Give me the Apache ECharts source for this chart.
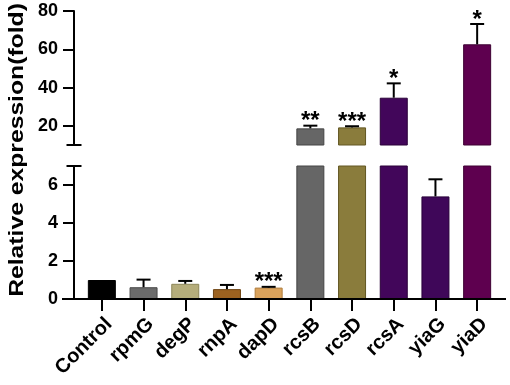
<!DOCTYPE html>
<html>
<head>
<meta charset="utf-8">
<script src="https://cdn.jsdelivr.net/npm/echarts@6/dist/echarts.min.js"></script>
<style>
    html, body { margin: 0; padding: 0; background: #fff; }
    #chart { width: 510px; height: 385px; }
</style>
</head>
<body>
<div id="chart"></div>
<script>
    // data
    var genes = ['Control', 'rpmG', 'degP', 'rnpA', 'dapD', 'rcsB', 'rcsD', 'rcsA', 'yiaG', 'yiaD'];
    var means = [1.0, 0.62, 0.8, 0.52, 0.6, 18.7, 19.2, 34.7, 5.4, 62.6];
    var errs = [0, 0.4, 0.15, 0.22, 0.04, 1.4, 0.6, 7.5, 0.9, 10.6];
    var stars = ['', '', '', '', '***', '**', '***', '*', '', '*'];
    var lowTicks = [0, 2, 4, 6];
    var highTicks = [20, 40, 60, 80];
    var lowRange = [0, 7];
    var highRange = [10, 80];

    var fills = ['#000000', '#6b6b6b', '#b5ad7b', '#9c6220', '#d9a25c', '#666666', '#8a7c3c', '#42065a', '#3f0759', '#5e004f'];
    var edges = ['#000000', '#4a4a4a', '#8d8658', '#6e4312', '#b07d3c', '#454545', '#625722', '#2a0039', '#280039', '#3e0033'];

    var font = '"Liberation Sans", Arial, sans-serif';
    var axisX = 74, baseY = 299;
    var grids = [
        {left: 81, right: 12, top: 11, height: 134},
        {left: 81, right: 12, top: 166, height: 133}
    ];

    function yAxis(idx, range, ticks) {
        return {
            type: 'value',
            gridIndex: idx,
            min: range[0],
            max: range[1],
            offset: 7,
            splitLine: {show: false},
            axisLine: {show: true, lineStyle: {color: '#000', width: 2}},
            axisTick: {show: true, length: 11, customValues: ticks, lineStyle: {color: '#000', width: 2}},
            axisLabel: {customValues: ticks, margin: 16, color: '#000', fontSize: 18, fontWeight: 'bold', fontFamily: font}
        };
    }

    function barData(filter) {
        return means.map(function (v, i) {
            return {
                value: filter(v) ? v : '-',
                itemStyle: {color: fills[i], borderColor: edges[i], borderWidth: 1}
            };
        });
    }

    function errData(filter) {
        var out = [];
        means.forEach(function (v, i) {
            if (filter(v)) out.push([i, v, errs[i]]);
        });
        return out;
    }

    function renderErr(params, api) {
        var i = api.value(0), v = api.value(1), e = api.value(2);
        var base = api.coord([i, v]);
        var top = api.coord([i, v + e]);
        var kids = [];
        if (e > 0) {
            kids.push({type: 'line', shape: {x1: base[0], y1: base[1], x2: base[0], y2: top[1]}, style: {stroke: '#000', lineWidth: 2}});
            kids.push({type: 'line', shape: {x1: base[0] - 7, y1: top[1], x2: base[0] + 7, y2: top[1]}, style: {stroke: '#000', lineWidth: 2}});
        }
        if (stars[i]) {
            kids.push({type: 'text', style: {text: stars[i], x: base[0], y: top[1] - 4, align: 'center', verticalAlign: 'middle',
                font: 'bold 24px ' + font, fill: '#000'}});
        }
        return {type: 'group', children: kids};
    }

    var isLow = function (v) { return v < lowRange[1]; };
    var isHigh = function (v) { return v > highRange[0]; };

    var chart = echarts.init(document.getElementById('chart'));
    chart.setOption({
        animation: false,
        grid: grids,
        xAxis: [
            {type: 'category', gridIndex: 0, data: genes, show: false},
            {
                type: 'category', gridIndex: 1, data: genes,
                axisLine: {show: false},
                axisTick: {show: true, length: 12, alignWithLabel: true, lineStyle: {color: '#000', width: 2}},
                axisLabel: {rotate: 45, margin: 15, interval: 0, verticalAlign: 'top', color: '#000', fontSize: 20, fontWeight: 'bold', fontFamily: font}
            }
        ],
        yAxis: [yAxis(0, highRange, highTicks), yAxis(1, lowRange, lowTicks)],
        series: [
            {type: 'bar', xAxisIndex: 0, yAxisIndex: 0, barWidth: 28, data: barData(isHigh)},
            {type: 'bar', xAxisIndex: 1, yAxisIndex: 1, barWidth: 28, data: barData(function () { return true; })},
            {type: 'custom', xAxisIndex: 0, yAxisIndex: 0, renderItem: renderErr, data: errData(isHigh), z: 5},
            {type: 'custom', xAxisIndex: 1, yAxisIndex: 1, renderItem: renderErr, data: errData(isLow), z: 5}
        ],
        graphic: [
            // x axis baseline, running past the y axis like the original
            {type: 'line', shape: {x1: 62, y1: baseY, x2: 506, y2: baseY}, style: {stroke: '#000', lineWidth: 2}, z: 10},
            // caps at the axis break
            {type: 'line', shape: {x1: axisX - 7.5, y1: 145, x2: axisX + 7.5, y2: 145}, style: {stroke: '#000', lineWidth: 2}},
            {type: 'line', shape: {x1: axisX - 7.5, y1: 166, x2: axisX + 7.5, y2: 166}, style: {stroke: '#000', lineWidth: 2}},
            {
                type: 'text', x: 17.5, y: 150, rotation: Math.PI / 2, scaleX: 1.235,
                style: {text: 'Relative expression(fold)', x: 0, y: 0, align: 'center', verticalAlign: 'middle',
                    font: 'bold 20px ' + font, fill: '#000'}
            }
        ]
    });
</script>
</body>
</html>
